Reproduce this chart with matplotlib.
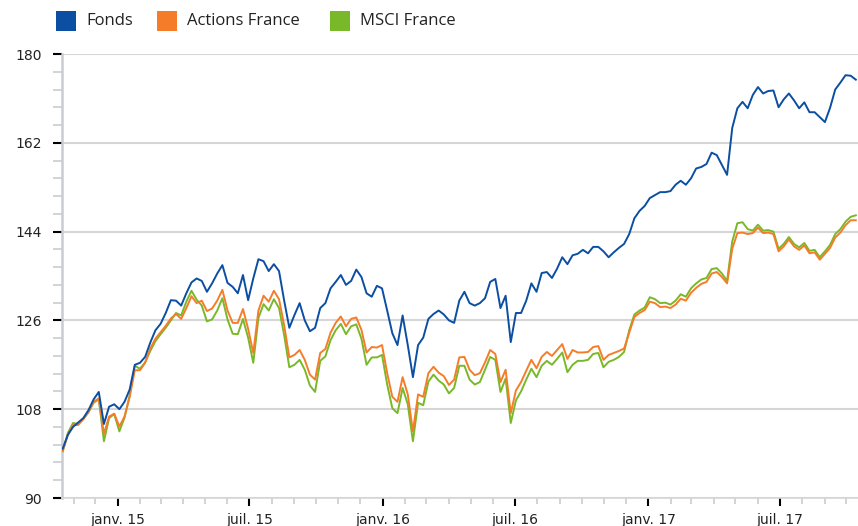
import numpy as np
import pandas as pd
import matplotlib
matplotlib.use("Agg")
from matplotlib import pyplot as plt
from matplotlib import dates as mdates
from matplotlib.patches import Rectangle
from matplotlib.ticker import MultipleLocator, FuncFormatter

# Weekly observation dates (x grid)
dates = pd.date_range("2014-10-17", "2017-10-14", periods=155)

# Fonds (base 100)
fonds = [
    100.0, 102.8, 104.4, 105.3, 106.2, 107.8, 110.0, 111.5, 105.0, 108.5,
    109.0, 108.0, 109.5, 112.0, 117.0, 117.4, 118.6, 121.5, 124.0, 125.3,
    127.5, 130.1, 130.0, 129.0, 131.5, 133.7, 134.5, 134.0, 131.8, 133.5,
    135.5, 137.2, 133.6, 132.8, 131.5, 135.2, 130.1, 134.5, 138.4, 138.0,
    136.0, 137.4, 136.0, 130.0, 124.5, 127.1, 129.5, 126.0, 123.8, 124.5,
    128.5, 129.5, 132.5, 133.8, 135.2, 133.2, 134.0, 136.3, 134.8, 131.5,
    130.8, 133.0, 132.5, 128.0, 123.4, 121.0, 127.0, 121.0, 114.5, 121.0,
    122.5, 126.3, 127.3, 128.0, 127.2, 126.0, 125.5, 130.0, 131.8, 129.5,
    129.0, 129.5, 130.5, 133.8, 134.4, 128.5, 131.0, 121.6, 127.5, 127.5,
    130.0, 133.5, 131.8, 135.6, 135.8, 134.6, 136.5, 138.8, 137.4, 139.2,
    139.5, 140.3, 139.6, 140.9, 140.9, 140.0, 138.8, 139.8, 140.7, 141.5,
    143.5, 146.7, 148.2, 149.2, 150.8, 151.4, 152.0, 152.0, 152.2, 153.5,
    154.3, 153.5, 154.8, 156.8, 157.1, 157.7, 160.0, 159.5, 157.5, 155.5,
    165.0, 169.0, 170.3, 169.0, 171.7, 173.3, 172.0, 172.5, 172.6, 169.2,
    170.8, 172.0, 170.6, 169.0, 170.2, 168.2, 168.2, 167.2, 166.2, 169.1,
    172.8, 174.2, 175.7, 175.6, 174.8,
]

# Actions France
actions = [
    99.5, 102.8, 104.8, 104.8, 106.0, 107.4, 109.5, 110.2, 103.0, 106.5,
    107.1, 104.5, 106.5, 110.5, 115.9, 115.9, 117.4, 120.3, 122.3, 123.6,
    124.9, 126.4, 127.3, 126.3, 128.5, 130.9, 129.5, 130.0, 127.9, 128.4,
    130.0, 132.2, 128.0, 125.5, 125.5, 128.3, 124.3, 119.4, 128.0, 131.0,
    129.8, 132.0, 130.3, 125.0, 118.5, 119.0, 120.0, 118.0, 115.0, 114.0,
    119.4, 120.2, 123.5, 125.5, 126.8, 124.8, 126.3, 126.6, 124.1, 119.5,
    120.6, 120.5, 121.0, 115.3, 110.5, 109.5, 114.5, 111.0, 103.5, 111.0,
    110.5, 115.3, 116.6, 115.4, 114.7, 112.9, 114.0, 118.5, 118.6, 116.0,
    114.9, 115.3, 117.5, 120.0, 119.2, 113.5, 116.0, 107.2, 111.8, 113.5,
    115.8, 118.0, 116.3, 118.6, 119.6, 118.8, 120.0, 121.2, 118.2, 120.0,
    119.5, 119.5, 119.6, 120.6, 120.8, 118.0, 119.0, 119.4, 119.8, 120.3,
    123.5, 126.7, 127.5, 128.1, 129.8, 129.5, 128.7, 128.8, 128.5, 129.2,
    130.4, 130.0, 131.6, 132.6, 133.4, 133.8, 135.5, 135.8, 134.8, 133.5,
    140.5, 143.7, 143.8, 143.5, 143.7, 144.8, 143.7, 143.8, 143.5, 140.0,
    141.0, 142.4, 141.0, 140.3, 141.2, 139.6, 139.8, 138.3, 139.5, 140.7,
    142.8, 143.8, 145.3, 146.3, 146.3,
]

# MSCI France
msci = [
    99.5, 103.2, 105.2, 105.0, 106.0, 107.4, 109.3, 110.0, 101.5, 106.2,
    107.0, 103.5, 106.3, 110.8, 116.8, 116.2, 117.5, 119.8, 121.8, 123.2,
    124.5, 126.0, 127.5, 127.0, 129.8, 132.0, 130.2, 129.0, 125.8, 126.2,
    128.0, 130.5, 126.2, 123.3, 123.2, 126.3, 122.5, 117.4, 126.5, 129.3,
    128.0, 130.3, 128.5, 123.0, 116.5, 117.0, 118.0, 116.0, 112.8, 111.5,
    117.8, 118.7, 122.0, 124.0, 125.3, 123.2, 124.8, 125.2, 122.3, 117.0,
    118.5, 118.5, 119.0, 113.0, 108.2, 107.2, 112.3, 109.0, 101.5, 109.3,
    108.8, 113.6, 115.0, 113.8, 113.0, 111.2, 112.3, 116.8, 116.8, 114.0,
    113.0, 113.5, 116.0, 118.6, 118.0, 111.5, 114.2, 105.2, 109.8, 111.6,
    114.0, 116.2, 114.5, 116.8, 117.8, 117.0, 118.2, 119.5, 115.5, 117.0,
    117.8, 117.8, 118.0, 119.2, 119.4, 116.5, 117.6, 118.0, 118.6, 119.6,
    124.0, 127.2, 128.0, 128.6, 130.7, 130.3, 129.5, 129.6, 129.2, 130.0,
    131.3, 130.8, 132.5, 133.5, 134.3, 134.6, 136.4, 136.6, 135.5, 134.0,
    142.0, 145.7, 145.9, 144.5, 144.2, 145.4, 144.2, 144.3, 144.0, 140.5,
    141.5, 142.9, 141.5, 140.8, 141.7, 140.1, 140.3, 138.8, 140.0, 141.3,
    143.5, 144.5, 146.0, 147.0, 147.3,
]

series_names = ["Fonds", "Actions France", "MSCI France"]
colors = ["#0b4ea2", "#f57d2a", "#79b829"]
y_ticks = [90, 108, 126, 144, 162, 180]
month_names = {1: "janv.", 7: "juil."}

fig = plt.figure(figsize=(8.58, 5.26), dpi=100)
W, H = 858, 526
ax = fig.add_axes([62 / W, 1 - 498 / H, 796 / W, 444 / H])

# draw order: green, orange, blue on top
ax.plot(dates, msci, color=colors[2], lw=1.4, zorder=3)
ax.plot(dates, actions, color=colors[1], lw=1.4, zorder=4)
ax.plot(dates, fonds, color=colors[0], lw=1.4, zorder=5)

ax.set_xlim(pd.Timestamp("2014-10-16"), pd.Timestamp("2017-10-17"))
ax.set_ylim(90, 180)

# y axis
ax.set_yticks(y_ticks)
ax.yaxis.set_minor_locator(MultipleLocator(3.6))
ax.grid(axis="y", which="major", color="#d6d6d6", lw=1.5, zorder=1)
ax.tick_params(axis="y", which="major", length=6.5, width=1.5, color="#000000",
               labelsize=10, labelcolor="#222222", pad=8)
ax.tick_params(axis="y", which="minor", length=6.5, width=1.2, color="#c8ccd2")

# x axis
ax.xaxis.set_major_locator(mdates.MonthLocator(bymonth=[1, 7]))
ax.xaxis.set_minor_locator(mdates.MonthLocator())
ax.xaxis.set_major_formatter(FuncFormatter(
    lambda v, pos: month_names[mdates.num2date(v).month] + " " + mdates.num2date(v).strftime("%y")))
ax.tick_params(axis="x", which="major", length=6, width=1.5, color="#000000",
               labelsize=10, labelcolor="#222222", pad=5)
ax.tick_params(axis="x", which="minor", length=4, width=1.2, color="#c8ccd2")

for side in ["top", "right"]:
    ax.spines[side].set_visible(False)
ax.spines["left"].set_color("#c8ccd2")
ax.spines["left"].set_linewidth(1.8)
ax.spines["bottom"].set_color("#d6d6d6")
ax.spines["bottom"].set_linewidth(1.2)

# legend drawn by hand along the top
leg_x = [56, 157, 330]
for i, name in enumerate(series_names):
    fig.add_artist(Rectangle((leg_x[i] / W, 1 - 31 / H), 20 / W, 20 / H,
                             transform=fig.transFigure, color=colors[i], lw=0))
    fig.text((leg_x[i] + 30) / W, 1 - 21 / H, name, fontsize=12,
             family=["Open Sans", "DejaVu Sans"], color="#222222", va="center")

fig.savefig("out.png", dpi=100)
